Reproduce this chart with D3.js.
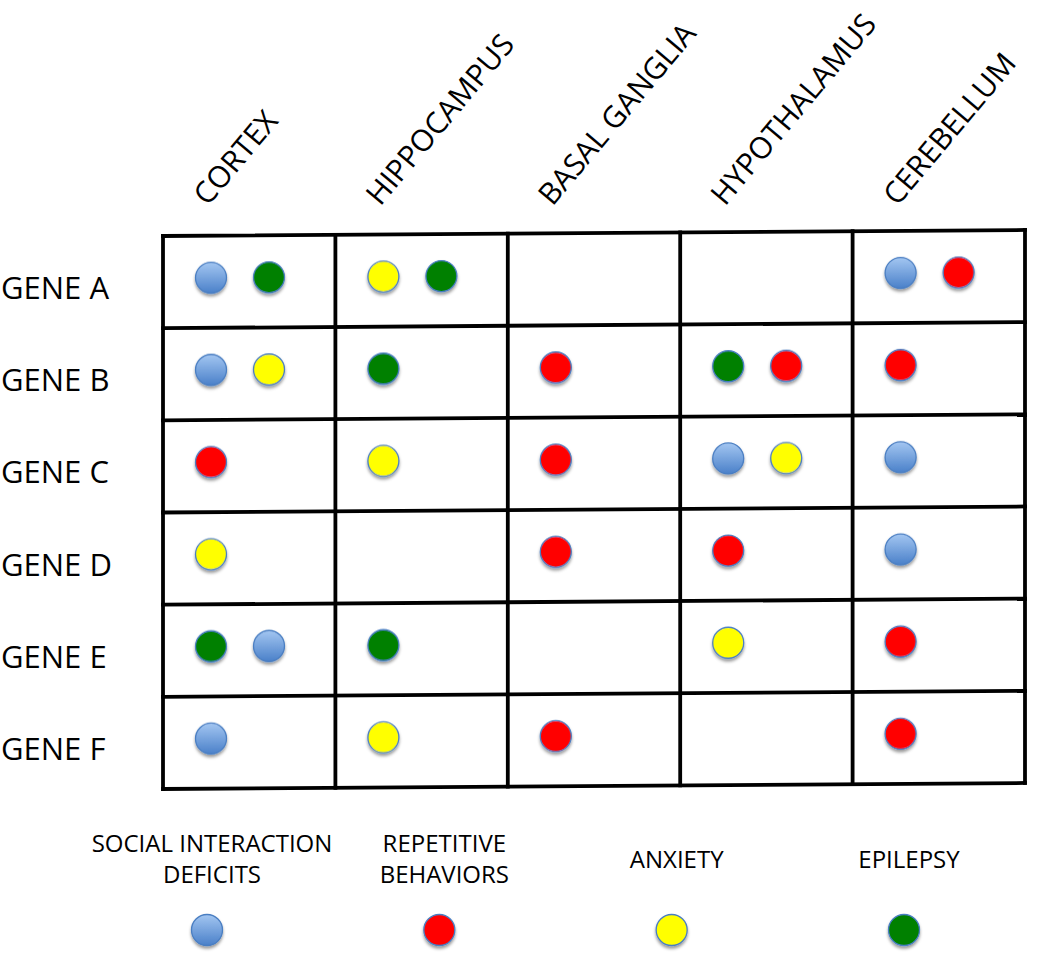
<!DOCTYPE html>
<html>
<head>
<meta charset="utf-8">
<script src="https://cdn.jsdelivr.net/npm/d3@7"></script>
<style>
  html, body { margin: 0; padding: 0; background: #ffffff; }
  svg { display: block; }
  text { font-family: "Open Sans", "Noto Sans", sans-serif; fill: #000; }
</style>
</head>
<body>
<svg id="chart" width="1050" height="955"></svg>
<script>
// ---------- data ----------
const regions = ["CORTEX", "HIPPOCAMPUS", "BASAL GANGLIA", "HYPOTHALAMUS", "CEREBELLUM"];
const genes = ["GENE A", "GENE B", "GENE C", "GENE D", "GENE E", "GENE F"];
const traits = ["social", "repetitive", "anxiety", "epilepsy"];
const traitLabels = [["SOCIAL INTERACTION", "DEFICITS"], ["REPETITIVE", "BEHAVIORS"], ["ANXIETY"], ["EPILEPSY"]];

// phenotypes per gene (rows) per region (columns), in drawing order
const geneA = [["social", "epilepsy"], ["anxiety", "epilepsy"], [], [], ["social", "repetitive"]];
const geneB = [["social", "anxiety"], ["epilepsy"], ["repetitive"], ["epilepsy", "repetitive"], ["repetitive"]];
const geneC = [["repetitive"], ["anxiety"], ["repetitive"], ["social", "anxiety"], ["social"]];
const geneD = [["anxiety"], [], ["repetitive"], ["repetitive"], ["social"]];
const geneE = [["epilepsy", "social"], ["epilepsy"], [], ["anxiety"], ["repetitive"]];
const geneF = [["social"], ["anxiety"], ["repetitive"], [], ["repetitive"]];
const matrix = [geneA, geneB, geneC, geneD, geneE, geneF];

// ---------- build ----------
const svg = d3.select("#chart");
const defs = svg.append("defs");

const blueGrad = defs.append("linearGradient").attr("id", "blueGrad")
  .attr("x1", 0).attr("y1", 0).attr("x2", 0).attr("y2", 1);
blueGrad.append("stop").attr("offset", "0%").attr("stop-color", "#a3c6f1");
blueGrad.append("stop").attr("offset", "100%").attr("stop-color", "#4a80c9");

const shadow = defs.append("filter").attr("id", "shadow")
  .attr("x", "-50%").attr("y", "-50%").attr("width", "200%").attr("height", "200%");
shadow.append("feDropShadow").attr("dx", 0).attr("dy", 2.5).attr("stdDeviation", 1.6)
  .attr("flood-color", "#000").attr("flood-opacity", 0.4);

const color = d3.scaleOrdinal().domain(traits)
  .range(["url(#blueGrad)", "#ff0000", "#ffff00", "#008000"]);

const x = d3.scaleBand().domain(regions).range([163, 1025]);
const y = d3.scaleBand().domain(genes).range([236, 789]);
const slot = d3.scaleLinear().domain([0, 1]).range([48, 106]);
const R = 15.5;

// table (slightly skewed like the hand-drawn original)
const skewDeg = -0.4;
const table = svg.append("g")
  .attr("transform", `translate(${x.range()[0]},0) skewY(${skewDeg}) translate(${-x.range()[0]},0)`);

const cells = [];
matrix.forEach((row, gi) => row.forEach((list, ri) => list.forEach((t, k) => {
  cells.push({ gene: genes[gi], region: regions[ri], trait: t, k: k });
})));

const xEdges = regions.map(r => x(r)).concat([x.range()[1]]);
const yEdges = genes.map(g => y(g)).concat([y.range()[1]]);

table.selectAll("line.v").data(xEdges).enter().append("line")
  .attr("class", "v")
  .attr("x1", d => d).attr("x2", d => d)
  .attr("y1", y.range()[0]).attr("y2", y.range()[1])
  .attr("stroke", "#000").attr("stroke-width", 3.8).attr("stroke-linecap", "square");

table.selectAll("line.h").data(yEdges).enter().append("line")
  .attr("class", "h")
  .attr("y1", d => d).attr("y2", d => d)
  .attr("x1", x.range()[0]).attr("x2", x.range()[1])
  .attr("stroke", "#000").attr("stroke-width", 3.8).attr("stroke-linecap", "square");

table.selectAll("circle.dot").data(cells).enter().append("circle")
  .attr("class", "dot")
  .attr("cx", d => x(d.region) + slot(d.k))
  .attr("cy", d => y(d.gene) + y.bandwidth() / 2 - 4)
  .attr("r", R)
  .attr("fill", d => color(d.trait))
  .attr("stroke", "#4a7ec2").attr("stroke-width", 1.3)
  .attr("filter", "url(#shadow)");

// row labels
svg.selectAll("text.row").data(genes).enter().append("text")
  .attr("class", "row")
  .attr("x", 1)
  .attr("y", d => y(d) + y.bandwidth() / 2 + 17)
  .attr("font-size", 31)
  .text(d => d);

// column labels (rotated)
svg.selectAll("text.col").data(regions).enter().append("text")
  .attr("class", "col")
  .attr("transform", d => `translate(${x(d) + x.bandwidth() * 0.26},${y.range()[0] - 29}) rotate(-50)`)
  .attr("font-size", 30)
  .text(d => d);

// legend
const lx = d3.scalePoint().domain(traits).range([207, 904]);
const legend = svg.selectAll("g.leg").data(traits).enter().append("g").attr("class", "leg");

legend.append("circle")
  .attr("cx", d => lx(d))
  .attr("cy", 930)
  .attr("r", R)
  .attr("fill", d => color(d))
  .attr("stroke", "#4a7ec2").attr("stroke-width", 1.3)
  .attr("filter", "url(#shadow)");

legend.append("text")
  .attr("text-anchor", "middle")
  .attr("font-size", 24)
  .each(function(d, i) {
    const lines = traitLabels[i];
    const t = d3.select(this);
    const y0 = lines.length === 1 ? 868 : 852;
    lines.forEach((ln, j) => {
      t.append("tspan").attr("x", lx(d) + 5).attr("y", y0 + j * 31).text(ln);
    });
  });
</script>
</body>
</html>
